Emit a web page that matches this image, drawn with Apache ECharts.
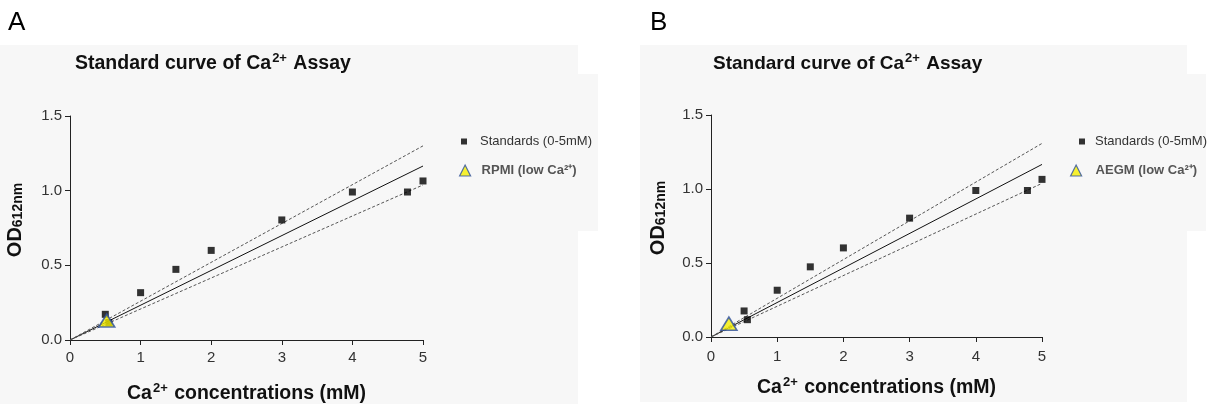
<!DOCTYPE html>
<html>
<head>
<meta charset="utf-8">
<script src="https://cdn.jsdelivr.net/npm/echarts@6/dist/echarts.min.js"></script>
<style>html,body{margin:0;padding:0;background:#fff}#c{width:1209px;height:404px}</style>
</head>
<body>
<div id="c"></div>
<script>
// ---- data ----
const xTicks = [0, 1, 2, 3, 4, 5];
const yTicks = [0.0, 0.5, 1.0, 1.5];
const stdX = [0.5, 0.55, 1, 1.5, 2, 3, 4, 4.78, 5];
const stdY_A = [0.172, 0.117, 0.317, 0.473, 0.60, 0.804, 0.991, 0.991, 1.065];
const stdY_B = [0.176, 0.117, 0.316, 0.474, 0.602, 0.803, 0.99, 0.99, 1.065];
const sampleA = [0.52, 0.13];   // RPMI (low Ca2+)
const sampleB = [0.27, 0.09];   // AEGM (low Ca2+)
const lineX = [0, 5];
const fitA = [0, 1.165], upA = [0, 1.30], loA = [0, 1.038];
const fitB = [0, 1.166], upB = [0, 1.308], loB = [0, 1.038];
const stdName = 'Standards (0-5mM)';
const nameA = 'RPMI (low Ca\u00B2\u207A)';
const nameB = 'AEGM (low Ca\u00B2\u207A)';

const FONT = 'Arial, "Liberation Sans", sans-serif';
const pts = (xs, ys) => xs.map((x, i) => [x, ys[i]]);

const chart = echarts.init(document.getElementById('c'), null, {renderer: 'canvas'});

function xAxis(gi, gap, margin) {
  return {
    type: 'value', gridIndex: gi, min: 0, max: 5, interval: 1,
    name: '{a|Ca}{s|2+}{a| concentrations (mM)}',
    nameLocation: 'middle', nameGap: gap,
    nameTextStyle: {rich: {
      a: {fontFamily: FONT, fontWeight: 'bold', fontSize: 19.5, color: '#111'},
      s: {fontFamily: FONT, fontWeight: 'bold', fontSize: 13, color: '#111', verticalAlign: 'top', padding: [0, 1, 10, 1]}
    }},
    axisLine: {show: true, onZero: false, lineStyle: {color: '#222', width: 1}},
    axisTick: {show: true, length: 5, lineStyle: {color: '#222'}},
    axisLabel: {fontFamily: FONT, fontSize: 15, color: '#333', margin: margin,
      formatter: v => xTicks.includes(v) ? String(v) : ''},
    splitLine: {show: false}
  };
}
function yAxis(gi, gap) {
  return {
    type: 'value', gridIndex: gi, min: 0, max: 1.5, interval: 0.5,
    name: '{a|OD}{b|612nm}',
    nameLocation: 'middle', nameGap: gap, nameRotate: 90,
    nameTextStyle: {padding: [0, 0, 0, 16], rich: {
      a: {fontFamily: FONT, fontWeight: 'bold', fontSize: 20, color: '#111'},
      b: {fontFamily: FONT, fontWeight: 'bold', fontSize: 14, color: '#111', verticalAlign: 'bottom', padding: [6, 0, 0, 0]}
    }},
    axisLine: {show: true, onZero: false, lineStyle: {color: '#222', width: 1}},
    axisTick: {show: true, length: 5, lineStyle: {color: '#222'}},
    axisLabel: {fontFamily: FONT, fontSize: 15, color: '#333', margin: 8,
      formatter: v => yTicks.includes(v) ? v.toFixed(1) : ''},
    splitLine: {show: false}
  };
}
function seriesFor(ai, stdY, sample, sName, fit, up, lo) {
  const dash = {color: '#555', width: 1, type: [3, 2]};
  return [
    {type: 'line', name: 'fit' + ai, xAxisIndex: ai, yAxisIndex: ai, data: pts(lineX, fit),
      symbol: 'none', lineStyle: {color: '#111', width: 1}, silent: true, z: 2},
    {type: 'line', name: 'up' + ai, xAxisIndex: ai, yAxisIndex: ai, data: pts(lineX, up),
      symbol: 'none', lineStyle: dash, silent: true, z: 2},
    {type: 'line', name: 'lo' + ai, xAxisIndex: ai, yAxisIndex: ai, data: pts(lineX, lo),
      symbol: 'none', lineStyle: dash, silent: true, z: 2},
    {type: 'scatter', name: stdName, xAxisIndex: ai, yAxisIndex: ai, data: pts(stdX, stdY),
      symbol: 'rect', symbolSize: 7, itemStyle: {color: '#000'}, z: 3},
    {type: 'scatter', name: sName, xAxisIndex: ai, yAxisIndex: ai, data: [sample],
      symbol: 'triangle', symbolSize: [16, 13],
      itemStyle: {color: '#f5ee00', borderColor: '#2c4e9c', borderWidth: 1.6}, z: 4}
  ];
}
function legendStd(left, pad) {
  return {orient: 'vertical', left: left, top: 135, padding: 0, itemWidth: 6, itemHeight: 6,
    data: [{name: stdName, icon: 'rect', itemStyle: {color: '#000'}}],
    textStyle: {fontFamily: FONT, fontSize: 13, color: '#333', padding: [0, 0, 0, pad]},
    selectedMode: false};
}
function legendSample(left, name, pad) {
  return {orient: 'vertical', left: left, top: 164, padding: 0, itemWidth: 11, itemHeight: 11,
    data: [{name: name, icon: 'triangle', itemStyle: {color: '#f5ee00', borderColor: '#2c4e9c', borderWidth: 1.2}}],
    textStyle: {fontFamily: FONT, fontSize: 13, fontWeight: 'bold', color: '#555', padding: [0, 0, 0, pad]},
    selectedMode: false};
}
const titleRich = {
  a: {fontFamily: FONT, fontWeight: 'bold', fontSize: 19.5, color: '#111'},
  s: {fontFamily: FONT, fontWeight: 'bold', fontSize: 13, color: '#111', verticalAlign: 'top', padding: [0, 1, 10, 1]}
};
const titleRichB = {
  a: Object.assign({}, titleRich.a, {fontSize: 19}),
  s: titleRich.s
};

const option = {
  backgroundColor: '#ffffff',
  animation: false,
  graphic: [
    {type: 'rect', z: -10, shape: {x: 0, y: 45, width: 578, height: 359}, style: {fill: '#f7f7f7'}},
    {type: 'rect', z: -10, shape: {x: 578, y: 74, width: 20, height: 157}, style: {fill: '#f7f7f7'}},
    {type: 'rect', z: -10, shape: {x: 640, y: 45, width: 547, height: 357}, style: {fill: '#f7f7f7'}},
    {type: 'rect', z: -10, shape: {x: 1187, y: 74, width: 19, height: 157}, style: {fill: '#f7f7f7'}},
    {type: 'text', left: 8, top: 10, style: {text: 'A', fontFamily: FONT, fontSize: 26, fill: '#000'}},
    {type: 'text', left: 650, top: 10, style: {text: 'B', fontFamily: FONT, fontSize: 26, fill: '#000'}}
  ],
  title: [
    {text: '{a|Standard curve of Ca}{s|2+}{a| Assay}', left: 70, top: 47, textStyle: {rich: titleRich}},
    {text: '{a|Standard curve of Ca}{s|2+}{a| Assay}', left: 708, top: 47, textStyle: {rich: titleRichB}}
  ],
  legend: [legendStd(461, 8), legendSample(459, nameA, 6), legendStd(1079, 5), legendSample(1070, nameB, 9)],
  grid: [
    {left: 70, top: 116, width: 353, height: 224, containLabel: false, outerBoundsMode: 'none'},
    {left: 711, top: 115, width: 331, height: 222, containLabel: false, outerBoundsMode: 'none'}
  ],
  xAxis: [xAxis(0, 42, 10), xAxis(1, 39, 12)],
  yAxis: [yAxis(0, 45), yAxis(1, 43)],
  series: [].concat(
    seriesFor(0, stdY_A, sampleA, nameA, fitA, upA, loA),
    seriesFor(1, stdY_B, sampleB, nameB, fitB, upB, loB)
  )
};
chart.setOption(option);
</script>
</body>
</html>
